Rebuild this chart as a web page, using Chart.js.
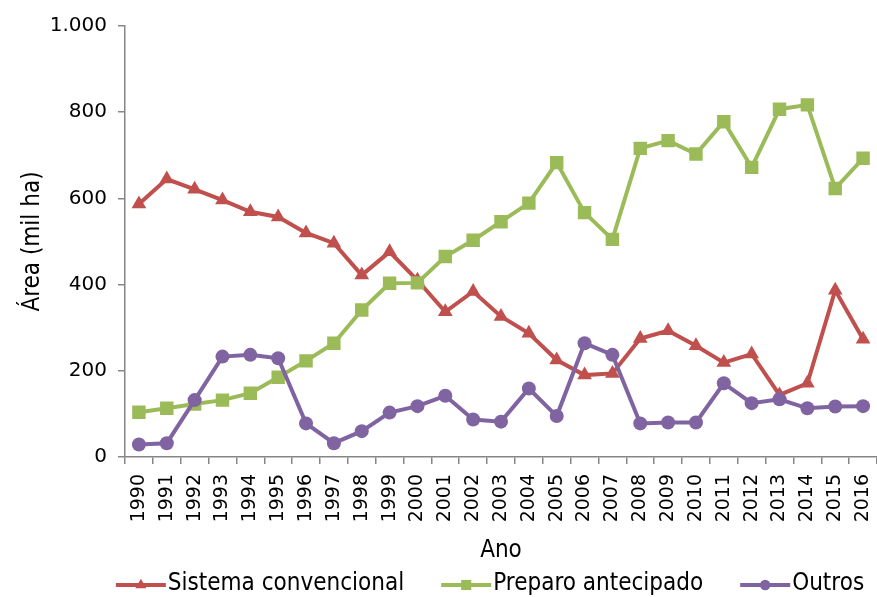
<!DOCTYPE html>
<html>
<head>
<meta charset="utf-8">
<script src="https://cdn.jsdelivr.net/npm/chart.js@4.4.1/dist/chart.umd.min.js"></script>
<style>
  body { margin: 0; background: #fff; }
  canvas { display: block; }
</style>
</head>
<body>
<canvas id="areaChart" width="877" height="597"></canvas>
<script>
// Área por sistema de preparo (mil ha), 1990-2016
const years = ["1990", "1991", "1992", "1993", "1994", "1995", "1996", "1997", "1998", "1999",
    "2000", "2001", "2002", "2003", "2004", "2005", "2006", "2007", "2008", "2009",
    "2010", "2011", "2012", "2013", "2014", "2015", "2016"];
const convencional = [587, 645, 621, 596, 569, 557, 520, 496, 422, 476, 410, 337, 384, 326, 287,
    225, 190, 194, 275, 293, 258, 219, 239, 144, 171, 387, 273];
const antecipado = [104, 113, 123, 132, 148, 185, 223, 264, 341, 403, 404, 465, 503, 546, 589,
    683, 567, 505, 716, 734, 703, 778, 672, 807, 817, 623, 693];
const outros = [29, 32, 132, 233, 237, 229, 78, 32, 60, 103, 118, 142, 87, 82, 159,
    95, 264, 237, 78, 80, 80, 171, 125, 134, 113, 117, 118];
const yTicks = [0, 200, 400, 600, 800, 1000];

const FONT = "'DejaVu Sans Condensed', 'DejaVu Sans', sans-serif";
const NUM_FONT = "'DejaVu Sans', sans-serif";
const AXIS_GREY = "#868686";

function formatTick(v) {
    // separador de milhar no padrão brasileiro
    return v >= 1000 ? Math.floor(v / 1000) + "." + String(v % 1000).padStart(3, "0") : String(v);
}

function drawMarker(ctx, style, x, y, r) {
    ctx.beginPath();
    if (style === "triangle") {
        ctx.moveTo(x, y - r);
        ctx.lineTo(x + r * 0.866, y + r * 0.5);
        ctx.lineTo(x - r * 0.866, y + r * 0.5);
        ctx.closePath();
    } else if (style === "rect") {
        let s = r * Math.SQRT1_2;
        ctx.rect(x - s, y - s, 2 * s, 2 * s);
    } else {
        ctx.arc(x, y, r, 0, Math.PI * 2);
    }
    ctx.fill();
}

// legenda com linha + marcador, como no Excel
const lineLegend = {
    id: "lineLegend",
    afterDraw(chart) {
        let ctx = chart.ctx;
        let items = chart.data.datasets.slice();
        let y = chart.height - 12;
        let lineW = 50, gap = 37;
        ctx.save();
        ctx.font = "24px " + FONT;
        let total = 0;
        items.forEach((ds, i) => {
            total += lineW + 2 + ctx.measureText(ds.label).width + (i < items.length - 1 ? gap : 0);
        });
        let x = 490 - total / 2;
        items.forEach(ds => {
            ctx.strokeStyle = ds.borderColor;
            ctx.fillStyle = ds.backgroundColor;
            ctx.lineWidth = 4;
            ctx.beginPath();
            ctx.moveTo(x, y);
            ctx.lineTo(x + lineW, y);
            ctx.stroke();
            drawMarker(ctx, ds.pointStyle, x + lineW / 2, y, ds.pointRadius * 0.75);
            x += lineW + 2;
            ctx.fillStyle = "#000";
            ctx.textBaseline = "middle";
            ctx.textAlign = "left";
            ctx.fillText(ds.label, x, y - 1);
            x += ctx.measureText(ds.label).width + gap;
        });
        ctx.restore();
    }
};

Chart.defaults.font.family = FONT;
Chart.defaults.color = "#000";

let ctx = document.getElementById("areaChart").getContext("2d");
let areaChart = new Chart(ctx, {
    type: "line",
    data: {
        labels: years,
        datasets: [{
            label: "Sistema convencional",
            data: convencional,
            borderColor: "#C0504D",
            backgroundColor: "#C0504D",
            pointStyle: "triangle",
            pointRadius: 8.5,
            order: 2
        }, {
            label: "Preparo antecipado",
            data: antecipado,
            borderColor: "#9BBB59",
            backgroundColor: "#9BBB59",
            pointStyle: "rect",
            pointRadius: 9.5,
            order: 1
        }, {
            label: "Outros",
            data: outros,
            borderColor: "#8064A2",
            backgroundColor: "#8064A2",
            pointStyle: "circle",
            pointRadius: 7,
            order: 0
        }]
    },
    options: {
        responsive: false,
        animation: false,
        layout: { autoPadding: false, padding: { top: 26, right: 0, bottom: 30, left: 0 } },
        elements: {
            line: { borderWidth: 4, tension: 0 },
            point: { borderWidth: 0, hoverRadius: 8 }
        },
        plugins: {
            legend: { display: false },
            tooltip: { enabled: false }
        },
        scales: {
            x: {
                offset: true,
                border: { color: AXIS_GREY, width: 1.5 },
                grid: { offset: true, drawOnChartArea: false, drawTicks: true, tickLength: 7, color: AXIS_GREY, lineWidth: 1.5 },
                ticks: { font: { size: 19, family: NUM_FONT }, minRotation: 90, maxRotation: 90, padding: 10, autoSkip: false },
                title: { display: true, text: "Ano", font: { size: 24 }, padding: { top: 0, bottom: 2 } },
                afterFit(scale) {
                    scale.height = 110;
                    scale.paddingLeft = 0;
                    scale.paddingRight = 0;
                }
            },
            y: {
                min: 0,
                max: 1000,
                afterBuildTicks(scale) { scale.ticks = yTicks.map(v => ({ value: v })); },
                border: { color: AXIS_GREY, width: 1.5 },
                grid: { drawOnChartArea: false, drawTicks: true, tickLength: 7, color: AXIS_GREY, lineWidth: 1.5 },
                ticks: { font: { size: 20, family: NUM_FONT }, padding: 11, callback: v => formatTick(v) },
                title: { display: true, text: "Área (mil ha)", font: { size: 24 }, padding: { top: 18, bottom: 0 } },
                afterFit(scale) { scale.width = 125; }
            }
        }
    },
    plugins: [lineLegend]
});
</script>
</body>
</html>
